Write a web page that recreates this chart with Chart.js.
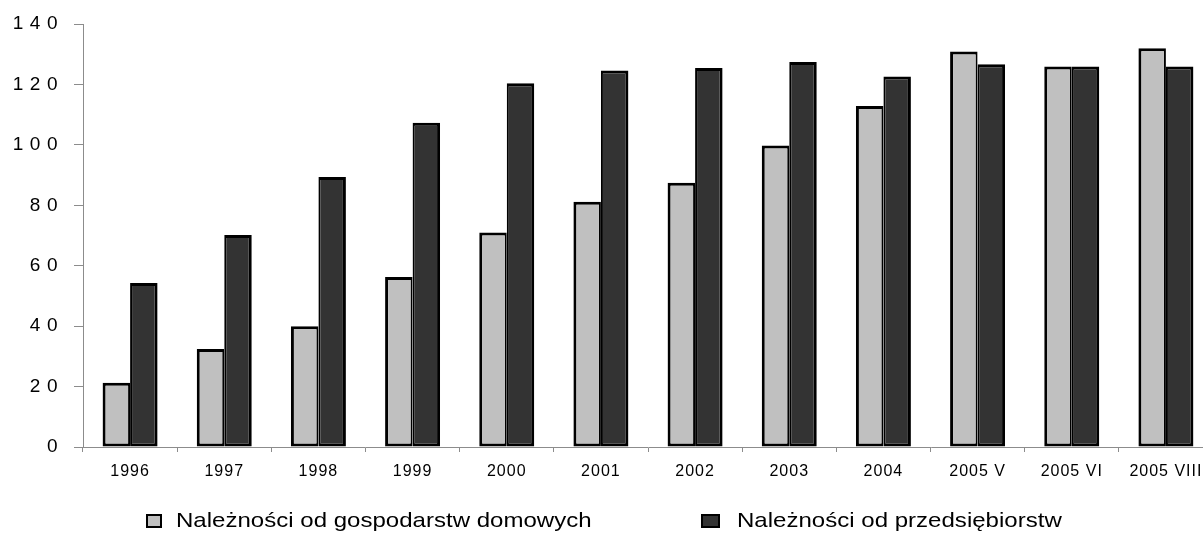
<!DOCTYPE html>
<html>
<head>
<meta charset="utf-8">
<script src="https://cdn.jsdelivr.net/npm/chart.js@4"></script>
<style>
  html, body { margin: 0; padding: 0; background: #fff; overflow: hidden; width: 1203px; height: 533px; }
  #wrap { position: absolute; left: 0; top: 0; width: 1220px; height: 495px; }
  #legend { position: absolute; left: 0; top: 0; width: 1203px; height: 533px;
            font-family: "Liberation Sans", Arial, sans-serif; font-size: 21px; color: #000; }
  .box { position: absolute; border: 2px solid #000; box-sizing: border-box; }
  .txt { position: absolute; white-space: nowrap; line-height: 21px; transform-origin: 0 0; }
</style>
</head>
<body>
<div id="wrap"><canvas id="c"></canvas></div>
<div id="legend"></div>
<script>
// Categories and series
const categories = ['1996', '1997', '1998', '1999', '2000', '2001', '2002', '2003', '2004', '2005 V', '2005 VI', '2005 VIII'];
const householdLabel = 'Należności od gospodarstw domowych';
const enterpriseLabel = 'Należności od przedsiębiorstw';
const households = [21.3, 32.4, 40.0, 56.3, 71.0, 81.2, 87.5, 99.8, 112.9, 130.9, 125.9, 132.0];
const enterprises = [54.3, 70.2, 89.4, 107.3, 120.4, 124.6, 125.4, 127.4, 122.6, 126.7, 125.9, 125.9];
const yTicks = [0, 20, 40, 60, 80, 100, 120, 140];

const lightFill = '#c0c0c0';
const darkFill = '#333333';
const axisGray = '#8c8c8c';

// draw one scale's labels with extra letter spacing
function spacedLabels(scale, spacing) {
  if (scale._spaced) return;
  const orig = scale.drawLabels.bind(scale);
  scale.drawLabels = function (area) {
    const ctx = this.ctx;
    ctx.save();
    ctx.letterSpacing = spacing;
    orig(area);
    ctx.restore();
  };
  scale._spaced = true;
}

const letterSpacingPlugin = {
  id: 'letterSpacing',
  afterLayout(chart) {
    spacedLabels(chart.scales.y, '6.5px');
    spacedLabels(chart.scales.x, '1px');
  }
};

new Chart(document.getElementById('c'), {
  type: 'bar',
  data: {
    labels: categories,
    datasets: [
      {
        label: householdLabel,
        data: households,
        backgroundColor: lightFill,
        borderColor: '#000',
        borderWidth: { left: 3, top: 3, right: 2, bottom: 3 },
        borderSkipped: false
      },
      {
        label: enterpriseLabel,
        data: enterprises,
        backgroundColor: darkFill,
        borderColor: '#000',
        borderWidth: { left: 2, top: 3, right: 3, bottom: 3 },
        borderSkipped: false
      }
    ]
  },
  options: {
    responsive: true,
    maintainAspectRatio: false,
    animation: false,
    datasets: { bar: { categoryPercentage: 0.584, barPercentage: 1.0 } },
    layout: { padding: { top: 24, right: 7, bottom: 0, left: 0 } },
    plugins: {
      legend: { display: false },
      tooltip: { enabled: false }
    },
    scales: {
      x: {
        grid: { display: true, drawOnChartArea: false, color: axisGray, tickLength: 5, offset: true },
        border: { color: axisGray, width: 1 },
        ticks: {
          color: '#000',
          font: { family: '"Liberation Sans", Arial, sans-serif', size: 16 },
          padding: 10,
          maxRotation: 0,
          autoSkip: false
        },
        afterFit(s) { s.height = 48; }
      },
      y: {
        min: 0,
        max: 140,
        afterBuildTicks(s) { s.ticks = yTicks.map(v => ({ value: v })); },
        grid: { display: true, drawOnChartArea: false, color: axisGray, tickLength: 9 },
        border: { color: axisGray, width: 1 },
        ticks: {
          color: '#000',
          font: { family: '"Liberation Sans", Arial, sans-serif', size: 19 },
          padding: 10
        },
        afterFit(s) { s.width = 83; }
      }
    }
  },
  plugins: [letterSpacingPlugin]
});

// legend under the chart
const legendItems = [
  { label: householdLabel, fill: lightFill, box: [146, 514, 16, 14], textX: 176 },
  { label: enterpriseLabel, fill: darkFill, box: [701, 514, 19, 14], textX: 737 }
];
const legend = document.getElementById('legend');
legendItems.forEach(it => {
  const b = document.createElement('div');
  b.className = 'box';
  b.style.left = it.box[0] + 'px';
  b.style.top = it.box[1] + 'px';
  b.style.width = it.box[2] + 'px';
  b.style.height = it.box[3] + 'px';
  b.style.background = it.fill;
  const t = document.createElement('div');
  t.className = 'txt';
  t.style.left = it.textX + 'px';
  t.style.top = '509px';
  t.style.transform = 'scaleX(1.145)';
  t.textContent = it.label;
  legend.appendChild(b);
  legend.appendChild(t);
});
</script>
</body>
</html>
